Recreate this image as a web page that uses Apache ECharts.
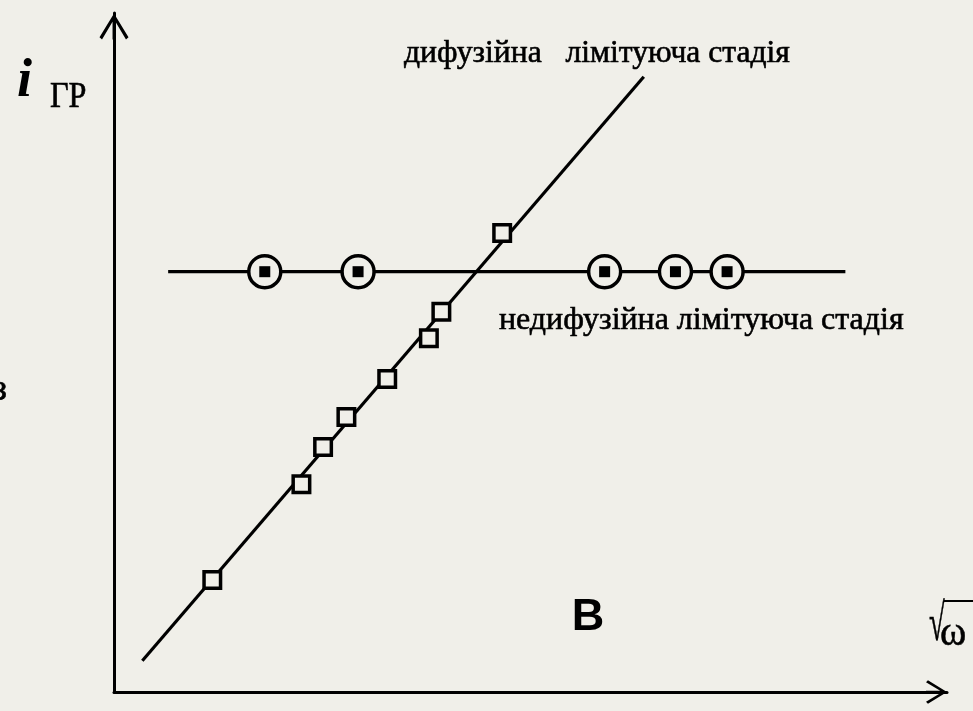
<!DOCTYPE html>
<html>
<head>
<meta charset="utf-8">
<script src="https://cdn.jsdelivr.net/npm/echarts@6/dist/echarts.min.js"></script>
<style>
  html, body { margin: 0; padding: 0; background: #f0efe9; }
  #chart { width: 973px; height: 711px; }
</style>
</head>
<body>
<div id="chart"></div>
<script>
// Limiting current vs. square root of rotation speed (arbitrary units)
const diffusionFit = [[0.34, 0.46], [6.36, 9.06]];          // straight line through diffusion points
const diffusionPoints = [
  [1.18, 1.65], [2.25, 3.06], [2.51, 3.61], [2.79, 4.05],
  [3.28, 4.61], [3.78, 5.21], [3.93, 5.60], [4.66, 6.76]
];
const kineticLevel = 6.19;                                   // constant current, non-diffusion stage
const kineticRange = [0.65, 8.78];
const kineticX = [1.81, 2.93, 5.89, 6.74, 7.36];

const labelDiffusion = 'дифузійна   лімітуюча стадія';
const labelKinetic = 'недифузійна лімітуюча стадія';

const BG = '#f0efe9';
const INK = '#000';
const SERIF = '"Liberation Serif", "Times New Roman", "DejaVu Serif", serif';

const chart = echarts.init(document.getElementById('chart'), null, { renderer: 'canvas' });

// open chevron used as arrow head, with a shaft so the axis reaches the tip
const chevron = 'path://M15,0 L30,24.5 L27.4,27 L15,6 L2.6,27 L0,24.5 Z M13.5,3 L16.5,3 L16.5,27 L13.5,27 Z';

function axis(size) {
  return {
    type: 'value',
    min: 0,
    max: 10,
    axisLine: {
      show: true,
      onZero: false,
      symbol: ['none', chevron],
      symbolSize: size,
      symbolOffset: [0, -size[1] / 2],
      lineStyle: { color: INK, width: 3 }
    },
    axisTick: { show: false },
    axisLabel: { show: false },
    splitLine: { show: false }
  };
}

// serif annotation, thickened slightly with a hairline stroke
function serifText(x, y, text, size, scaleX) {
  return {
    type: 'text', x: x, y: y, scaleX: scaleX || 1,
    style: {
      text: text, font: size + 'px ' + SERIF, fill: INK,
      stroke: INK, lineWidth: 0.6,
      align: 'left', verticalAlign: 'middle'
    }
  };
}

chart.setOption({
  backgroundColor: BG,
  animation: false,
  grid: { left: 114, right: 26, top: 13, bottom: 19 },
  xAxis: axis([32, 21]),
  yAxis: axis([29, 27]),
  series: [
    {
      type: 'line',
      data: diffusionFit,
      symbol: 'none',
      lineStyle: { color: INK, width: 3.2 },
      z: 2,
      silent: true
    },
    {
      type: 'line',
      data: kineticRange.map(x => [x, kineticLevel]),
      symbol: 'none',
      lineStyle: { color: INK, width: 3.2 },
      z: 2,
      silent: true
    },
    {
      type: 'scatter',
      data: diffusionPoints,
      symbol: 'rect',
      symbolSize: 16.5,
      itemStyle: { color: BG, borderColor: INK, borderWidth: 3.5, opacity: 1 },
      z: 3,
      silent: true
    },
    {
      type: 'scatter',
      data: kineticX.map(x => [x, kineticLevel]),
      symbol: 'circle',
      symbolSize: 32,
      itemStyle: { color: BG, borderColor: INK, borderWidth: 3.5, opacity: 1 },
      z: 3,
      silent: true
    },
    {
      type: 'scatter',
      data: kineticX.map(x => [x, kineticLevel]),
      symbol: 'rect',
      symbolSize: 11,
      itemStyle: { color: INK, opacity: 1 },
      z: 4,
      silent: true
    }
  ],
  graphic: [
    serifText(404, 54, labelDiffusion, 31, 1.02),
    serifText(499, 321, labelKinetic, 31, 1.03),
    {
      type: 'text', x: 17, y: 82,
      style: { text: 'i', font: 'italic bold 54px ' + SERIF, fill: INK, align: 'left', verticalAlign: 'middle' }
    },
    serifText(50, 98, 'ГР', 35, 0.92),
    {
      type: 'text', x: 588, y: 618,
      style: { text: 'В', font: 'bold 45px "Liberation Sans", Arial, sans-serif', fill: INK, align: 'center', verticalAlign: 'middle' }
    },
    // radical sign and omega on the horizontal axis
    serifText(929, 626, '√', 52, 0.55),
    serifText(940, 634, 'ω', 42, 0.95),
    {
      type: 'line',
      shape: { x1: 944, y1: 601, x2: 973, y2: 601 },
      style: { stroke: INK, lineWidth: 2 }
    },
    serifText(-8, 390, 'з', 38, 1)
  ]
});
</script>
</body>
</html>
